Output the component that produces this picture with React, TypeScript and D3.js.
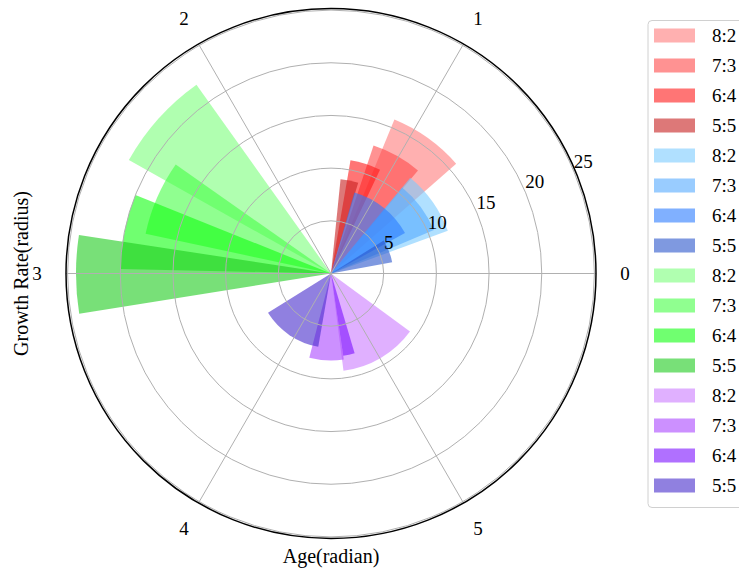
import React, { useEffect, useRef } from "react";
import * as d3 from "d3";

// ratio labels, one bar per ratio in every group
const ratios = ["8:2", "7:3", "6:4", "5:5"];

// bar centres (radians), widths (radians) and heights (growth rate)
const redTheta = [0.95, 1.06, 1.265, 1.375];
const redWidth = [0.46, 0.38, 0.27, 0.19];
const redValue = [15.8, 12.8, 10.9, 9.0];

const blueTheta = [0.615, 0.64, 0.895, 0.37];
const blueWidth = [0.53, 0.48, 0.79, 0.38];
const blueValue = [11.8, 10.6, 8.0, 5.9];

const greenTheta = [2.41, 2.73, 2.94, 3.145];
const greenWidth = [0.44, 0.4, 0.36, 0.31];
const greenValue = [22.0, 18.0, 20.0, 24.2];

const purpleTheta = [5.245, 4.66, 4.93, 4.12];
const purpleWidth = [0.81, 0.4, 0.14, 0.84];
const purpleValue = [9.3, 8.25, 7.9, 7.05];

const redColors = ["#ff7b7b", "#ff4949", "#ff1919", "#c61e1e"];
const blueColors = ["#7bcbff", "#55aaff", "#2b7bff", "#2a55cb"];
const greenColors = ["#7bff7b", "#46ff46", "#11ff11", "#1ecb1e"];
const purpleColors = ["#cb7bff", "#aa46ff", "#7b11ff", "#462bcb"];

const radialTicks = [5, 10, 15, 20, 25];
const thetaTickLabels = ["0", "1", "2", "3", "4", "5"];

export default function App() {
  const ref = useRef<SVGSVGElement>(null);

  useEffect(() => {
    const width = 739;
    const height = 572;
    const cx = 331;
    const cy = 273.5;
    const outer = 265;
    const font = "'Liberation Serif', 'Times New Roman', serif";

    const svg = d3.select(ref.current);
    svg.selectAll("*").remove();
    svg.attr("width", width).attr("height", height);

    const r = d3.scaleLinear().domain([0, 25.15]).range([0, outer]);
    const g = svg.append("g").attr("transform", `translate(${cx},${cy})`);

    const groups = [
      { theta: redTheta, w: redWidth, v: redValue, colors: redColors },
      { theta: blueTheta, w: blueWidth, v: blueValue, colors: blueColors },
      { theta: greenTheta, w: greenWidth, v: greenValue, colors: greenColors },
      { theta: purpleTheta, w: purpleWidth, v: purpleValue, colors: purpleColors },
    ];

    const bars = groups.flatMap((grp) =>
      ratios.map((lab, i) => ({
        lab,
        theta: grp.theta[i],
        w: grp.w[i],
        v: grp.v[i],
        color: grp.colors[i],
      }))
    );

    // polar theta (ccw from east) -> d3 arc angle (cw from north)
    const arc = d3
      .arc<any>()
      .innerRadius(0)
      .outerRadius((d) => r(d.v))
      .startAngle((d) => Math.PI / 2 - (d.theta + d.w / 2))
      .endAngle((d) => Math.PI / 2 - (d.theta - d.w / 2));

    g.selectAll("path.bar")
      .data(bars)
      .enter()
      .append("path")
      .attr("class", "bar")
      .attr("d", arc)
      .attr("fill", (d) => d.color)
      .attr("fill-opacity", 0.6);

    // grid sits above the bars, as in the original
    g.selectAll("circle.ring")
      .data(radialTicks)
      .enter()
      .append("circle")
      .attr("r", (d) => r(d))
      .attr("fill", "none")
      .attr("stroke", "#b0b0b0")
      .attr("stroke-width", 1);

    const spokes = thetaTickLabels.map((_, i) => (i * Math.PI) / 3);
    g.selectAll("line.spoke")
      .data(spokes)
      .enter()
      .append("line")
      .attr("x1", 0)
      .attr("y1", 0)
      .attr("x2", (a) => outer * Math.cos(a))
      .attr("y2", (a) => -outer * Math.sin(a))
      .attr("stroke", "#b0b0b0")
      .attr("stroke-width", 1);

    g.append("circle")
      .attr("r", outer)
      .attr("fill", "none")
      .attr("stroke", "#000")
      .attr("stroke-width", 1.5);

    // theta tick labels
    g.selectAll("text.tt")
      .data(thetaTickLabels)
      .enter()
      .append("text")
      .attr("x", (_, i) => 294 * Math.cos((i * Math.PI) / 3))
      .attr("y", (_, i) => -294 * Math.sin((i * Math.PI) / 3))
      .attr("text-anchor", "middle")
      .attr("dominant-baseline", "central")
      .style("font-family", font)
      .style("font-size", "19px")
      .text((d) => d);

    // radial tick labels at 22.5 degrees
    const ra = (22.5 * Math.PI) / 180;
    g.selectAll("text.rt")
      .data(radialTicks)
      .enter()
      .append("text")
      .attr("x", (d) => r(d) * Math.cos(ra) + 9)
      .attr("y", (d) => -r(d) * Math.sin(ra) - 11)
      .attr("text-anchor", "middle")
      .attr("dominant-baseline", "central")
      .style("font-family", font)
      .style("font-size", "19px")
      .text((d) => d);

    // axis labels
    svg
      .append("text")
      .attr("x", cx)
      .attr("y", 556)
      .attr("text-anchor", "middle")
      .attr("dominant-baseline", "central")
      .style("font-family", font)
      .style("font-size", "20px")
      .text("Age(radian)");

    svg
      .append("text")
      .attr("transform", `translate(21,${cy}) rotate(-90)`)
      .attr("text-anchor", "middle")
      .attr("dominant-baseline", "central")
      .style("font-family", font)
      .style("font-size", "20px")
      .text("Growth Rate(radius)");

    // legend
    const lg = svg.append("g").attr("transform", "translate(648,20.5)");
    lg.append("rect")
      .attr("width", 130)
      .attr("height", 487)
      .attr("rx", 4)
      .attr("fill", "#fff")
      .attr("stroke", "#d0d0d0")
      .attr("stroke-width", 1);

    const items = lg
      .selectAll("g.item")
      .data(bars)
      .enter()
      .append("g")
      .attr("transform", (_, i) => `translate(0,${15 + i * 30})`);
    items
      .append("rect")
      .attr("x", 6)
      .attr("y", -7)
      .attr("width", 41)
      .attr("height", 14)
      .attr("fill", (d) => d.color)
      .attr("fill-opacity", 0.6);
    items
      .append("text")
      .attr("x", 64)
      .attr("y", 0)
      .attr("dominant-baseline", "central")
      .style("font-family", font)
      .style("font-size", "19px")
      .text((d) => d.lab);
  }, []);

  return <svg ref={ref} style={{ position: "absolute", left: 0, top: 0 }} />;
}
